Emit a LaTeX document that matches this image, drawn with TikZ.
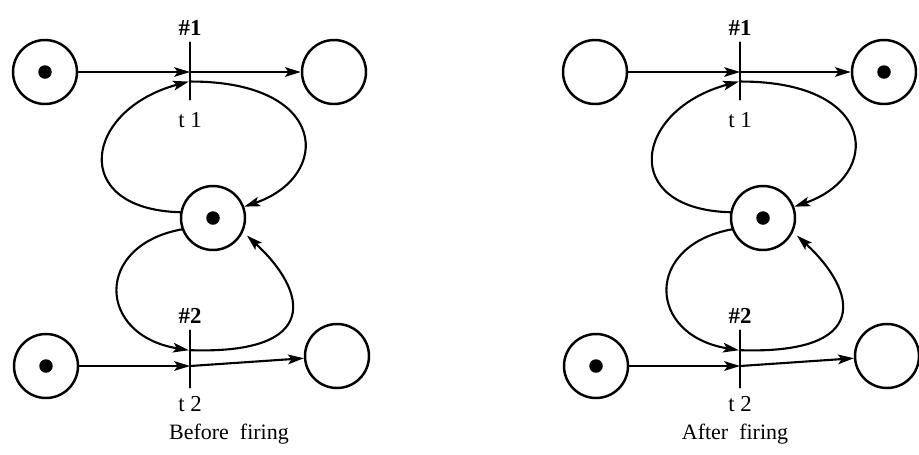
\documentclass[tikz,border=0pt]{standalone}
\usepackage{fontspec}
\setmainfont{Liberation Serif}
\usetikzlibrary{arrows.meta,calc}
\tikzset{
	place/.style={draw, circle, line width=1.4pt, minimum size=1.28cm, inner sep=0pt},
	marked/.style={place, path picture={\fill (path picture bounding box.center) circle (0.135cm);}},
	trans/.style={draw, line width=1.3pt, minimum width=0pt, minimum height=1.14cm, inner sep=0pt, label distance=3pt},
	num/.style={font=\fontsize{13}{15}\selectfont\bfseries},
	arc/.style={->, line width=1.2pt},
}

\begin{document}
\begin{tikzpicture}[x=0.02cm, y=-0.02cm, >={Stealth[length=9pt,width=5.5pt,inset=2pt]}, font=\fontsize{13}{15}\selectfont, line join=round, line cap=round]
	\useasboundingbox (0,0) rectangle (919,454);
	% b = before firing, a = after firing
	\foreach \n/\dx/\sa/\sb/\cx/\cap in {b/0/marked/place/229/Before,a/550/place/marked/185/After}{
	\begin{scope}[shift={(\dx,0)}]
		\node[\sa] (\n pa) at (45,72) {};
		\node[\sb] (\n pb) at (334,72) {};
		\node[marked] (\n pm) at (213,218) {};
		\node[marked] (\n pc) at (46,366) {};
		\node[place] (\n pd) at (337,356) {};
		\node[trans, label={[num]above:\#1}, label={[label distance=3pt]below:t 1}] (\n t1) at (190,71) {};
		\node[trans, label={[num]above:\#2}, label={[label distance=1pt]below:t 2}] (\n t2) at (190,359) {};
		\node[font=\fontsize{12.5}{14}\selectfont] (\n cap) at (\cx,434) {\cap\enspace firing};
		% straight arcs
		\draw[arc] (\n pa) -- (\n pa -| \n t1);
		\draw[arc] (\n pa -| \n t1) -- (\n pb);
		\draw[arc] (\n pc) -- (\n pc -| \n t2);
		\draw[arc] (\n pc -| \n t2) -- (\n pd);
		% loops through the middle place
		\draw[arc] (\n pm.170) .. controls +(-112,-3) and +(-105,28) .. ([yshift=-6pt]\n t1.west);
		\draw[arc] ([yshift=-6pt]\n t1.east) .. controls +(138,0) and +(88,-30) .. (\n pm.20);
		\draw[arc] (\n pm.200) .. controls +(-88,16) and +(-92,-15) .. ([yshift=5pt]\n t2.west);
		\draw[arc, shorten >=3pt] ([yshift=5pt]\n t2.east) .. controls +(130,4) and +(65,60) .. (\n pm.-25);
	\end{scope}}
\end{tikzpicture}
\end{document}
